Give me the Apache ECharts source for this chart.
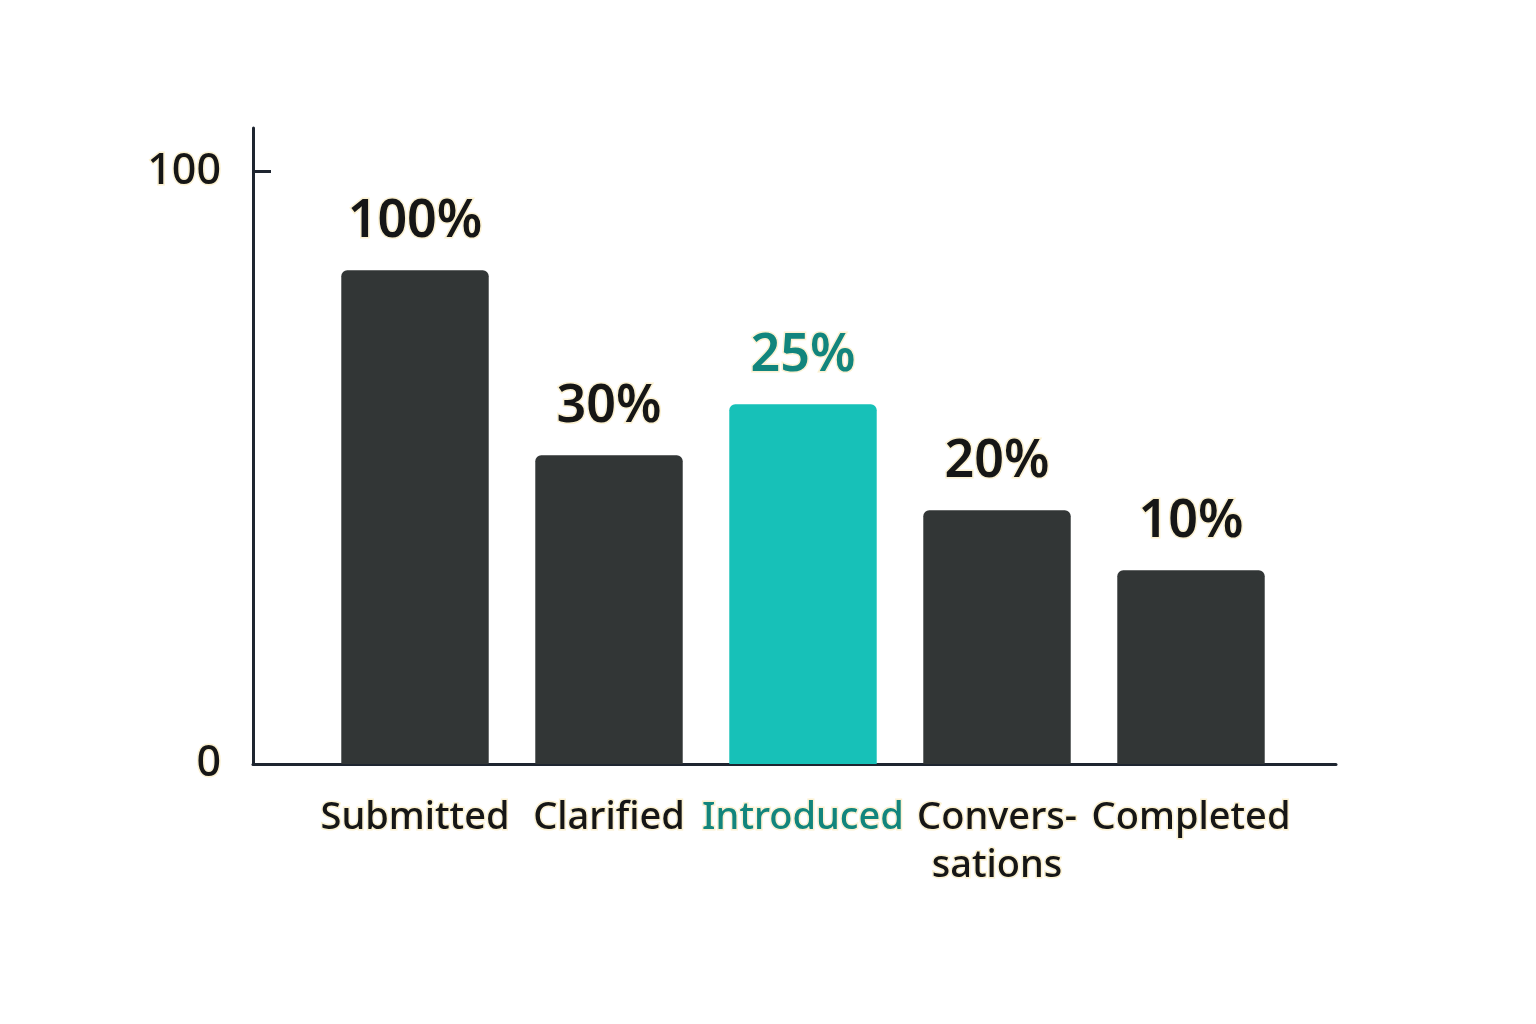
<!DOCTYPE html>
<html>
<head>
<meta charset="utf-8">
<script src="https://cdn.jsdelivr.net/npm/echarts@6/dist/echarts.min.js"></script>
<style>
html,body{margin:0;padding:0;background:#fff;}
#chart{width:1536px;height:1024px;}
</style>
</head>
<body>
<div id="chart"></div>
<script>
const categories = ['Submitted', 'Clarified', 'Introduced', 'Convers-\nsations', 'Completed'];
const barHeights = [83.3, 52.1, 60.7, 42.8, 32.7];
const valueLabels = ['100%', '30%', '25%', '20%', '10%'];
const highlightIndex = 2;
const yTickValues = [0, 100];

const DARK = '#323636';
const TEAL = '#17c1b8';
const TEAL_TEXT = '#12857d';
const TEXT = '#161616';
const AXIS = '#1e2530';
const HALO = '#fbf1d2';
const FONT = '"Noto Sans", "Open Sans", sans-serif';
const YMAX = 107.3;

const chart = echarts.init(document.getElementById('chart'));
chart.setOption({
  backgroundColor: '#ffffff',
  animation: false,
  grid: [
    { left: 318, right: 248, top: 128, bottom: 260 },
    { left: 253, right: 200, top: 128, bottom: 260 }
  ],
  xAxis: [
    {
      type: 'category', gridIndex: 0, data: categories,
      axisLine: { show: false }, axisTick: { show: false },
      axisLabel: {
        margin: 30, fontSize: 38, lineHeight: 48, fontFamily: FONT, fontWeight: 500,
        textBorderColor: HALO, textBorderWidth: 3,
        color: (v, i) => i === highlightIndex ? TEAL_TEXT : TEXT,
        interval: 0
      }
    },
    {
      type: 'value', gridIndex: 1, min: 0, max: 1,
      axisLine: { show: true, lineStyle: { color: AXIS, width: 3 } },
      axisTick: { show: false }, axisLabel: { show: false }, splitLine: { show: false }
    }
  ],
  yAxis: [
    { type: 'value', gridIndex: 0, min: 0, max: YMAX, show: false },
    {
      type: 'value', gridIndex: 1, min: 0, max: YMAX,
      axisLine: { show: true, lineStyle: { color: AXIS, width: 3 } },
      axisTick: { show: true, inside: true, length: 18, customValues: [100], lineStyle: { color: AXIS, width: 3 } },
      axisLabel: {
        customValues: yTickValues, margin: 32, fontSize: 43, fontFamily: FONT, fontWeight: 500, color: TEXT,
        textBorderColor: HALO, textBorderWidth: 3
      },
      splitLine: { show: false }
    }
  ],
  series: [{
    type: 'bar', xAxisIndex: 0, yAxisIndex: 0,
    barWidth: '76%',
    data: barHeights.map((v, i) => ({
      value: v,
      itemStyle: { color: i === highlightIndex ? TEAL : DARK, borderRadius: [6, 6, 0, 0] },
      label: { color: i === highlightIndex ? TEAL_TEXT : TEXT }
    })),
    label: {
      show: true, position: 'top', distance: 22,
      fontSize: 52, fontFamily: FONT, fontWeight: 600,
      textBorderColor: HALO, textBorderWidth: 3,
      formatter: p => valueLabels[p.dataIndex]
    }
  }]
});
</script>
</body>
</html>
